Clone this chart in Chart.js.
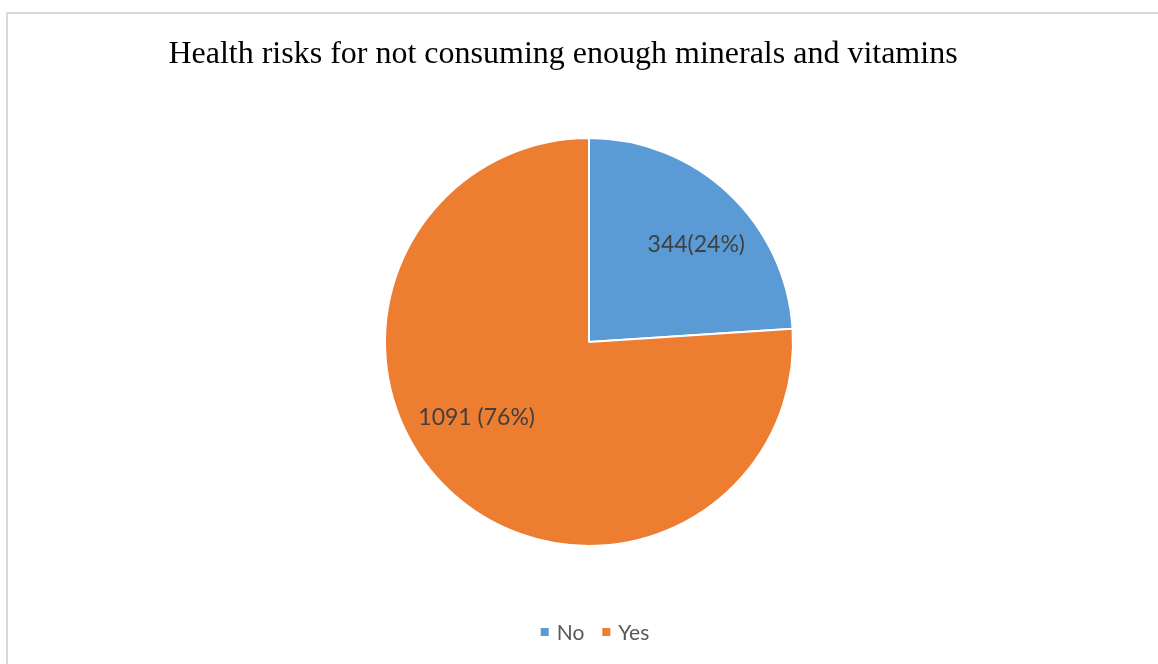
<!DOCTYPE html>
<html>
<head>
<meta charset="utf-8">
<script src="https://cdn.jsdelivr.net/npm/chart.js@4.4.1/dist/chart.umd.min.js"></script>
<style>
  html, body { margin: 0; padding: 0; background: #fff; }
  canvas { display: block; }
</style>
</head>
<body>
<canvas id="chart" width="1158" height="664"></canvas>
<script>
// Survey answers
const titleText = 'Health risks for not consuming enough minerals and vitamins';
const categories = ['No', 'Yes'];
const counts = [344, 1091];
const labelSeparators = ['', ' '];
const sliceColors = ['#5B9BD5', '#ED7D31'];

const total = counts.reduce((a, b) => a + b, 0);
const sliceLabels = counts.map((v, i) =>
  v + labelSeparators[i] + '(' + Math.round(v / total * 100) + '%)');

// Where each value label sits: angle (deg, clockwise from 12 o'clock) and fraction of radius
const labelPlacement = [
  { angle: 47.8, radius: 0.71 },
  { angle: 235.9, radius: 0.665 }
];

const labelFont = '23px Lato';
const legendFont = '21px Lato';

const decor = {
  id: 'decor',
  beforeDraw(chart) {
    const ctx = chart.ctx;
    ctx.save();
    ctx.fillStyle = '#ffffff';
    ctx.fillRect(0, 0, chart.width, chart.height);
    // frame around the chart
    ctx.strokeStyle = '#d9d9d9';
    ctx.lineWidth = 2;
    ctx.strokeRect(7, 13, chart.width + 40, chart.height + 40);
    // title
    ctx.fillStyle = '#000000';
    ctx.font = '32px "Liberation Serif"';
    ctx.textAlign = 'center';
    ctx.textBaseline = 'alphabetic';
    ctx.fillText(titleText, 563, 63);
    ctx.restore();
  },
  afterDraw(chart) {
    const ctx = chart.ctx;
    const arc = chart.getDatasetMeta(0).data[0];
    const cx = arc.x, cy = arc.y, r = arc.outerRadius;
    ctx.save();
    // value labels
    ctx.font = labelFont;
    ctx.fillStyle = '#404040';
    ctx.textAlign = 'center';
    ctx.textBaseline = 'middle';
    sliceLabels.forEach((txt, i) => {
      const p = labelPlacement[i];
      const a = p.angle * Math.PI / 180;
      ctx.fillText(txt, cx + Math.sin(a) * r * p.radius, cy - Math.cos(a) * r * p.radius);
    });
    // legend
    ctx.font = legendFont;
    const box = 8, gap = 8, itemGap = 18;
    const widths = categories.map(c => ctx.measureText(c).width);
    const full = widths.reduce((s, w) => s + box + gap + w, 0) + itemGap * (categories.length - 1);
    let x = 595 - full / 2;
    const y = 633;
    ctx.textAlign = 'left';
    ctx.textBaseline = 'middle';
    categories.forEach((c, i) => {
      ctx.fillStyle = sliceColors[i];
      ctx.fillRect(x, y - box / 2 - 1, box, box);
      x += box + gap;
      ctx.fillStyle = '#595959';
      ctx.fillText(c, x, y);
      x += widths[i] + itemGap;
    });
    ctx.restore();
  }
};

new Chart(document.getElementById('chart'), {
  type: 'pie',
  data: {
    labels: categories,
    datasets: [{
      data: counts,
      backgroundColor: sliceColors,
      borderColor: '#ffffff',
      borderWidth: 2
    }]
  },
  options: {
    responsive: false,
    animation: false,
    layout: { padding: { left: 384, right: 364, top: 137, bottom: 117 } },
    plugins: {
      legend: { display: false },
      title: { display: false },
      tooltip: { enabled: false }
    }
  },
  plugins: [decor]
});
</script>
</body>
</html>
